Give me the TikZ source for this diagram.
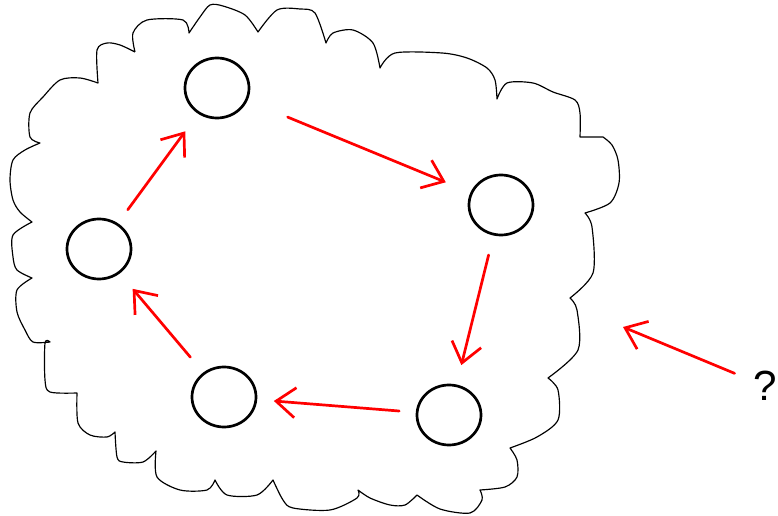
\documentclass[tikz,border=0pt]{standalone}
\usepackage{fontspec}
\setmainfont{Liberation Sans}
\usetikzlibrary{arrows.meta,positioning,shapes.geometric}

\begin{document}
\begin{tikzpicture}[x=0.03cm,y=-0.03cm]
	\tikzstyle{peer} = [ellipse, draw, line width=2.3pt, minimum width=1.92cm, minimum height=1.8cm, inner sep=0pt]
	\tikzstyle{arrow} = [draw=red, line width=2.3pt, line cap=round, -{Straight Barb[length=0.58cm, width=0.9cm, line width=2.3pt]}]
	\tikzstyle{cloudline} = [draw, line width=1pt, line join=round, smooth, tension=0.5]

	\useasboundingbox (0,0) rectangle (778,516);

	% the cloud, one bump at a time
	\path[cloudline]
		plot coordinates {(135,52) (133,33) (147,20) (183,20) (189,33)}
		-- plot coordinates {(189,33) (200,17) (210,5) (223,6) (245,15) (258,32)}
		-- plot coordinates {(258,32) (277,10) (300,9) (315,13) (326,43)}
		-- plot coordinates {(326,43) (333,33) (353,30) (373,43) (380,68)}
		-- plot coordinates {(380,68) (395,53) (442,53) (467,58) (487,68) (495,80) (497,99)}
		-- plot coordinates {(497,99) (507,83) (533,83) (553,92) (575,100) (580,113) (580,137)}
		-- (603,137)
		-- plot coordinates {(603,137) (612,145) (618,160) (619,183) (610,203) (585,213)}
		-- plot coordinates {(585,213) (592,227) (593,273) (570,298)}
		-- plot coordinates {(570,298) (577,310) (578,350) (548,378)}
		-- plot coordinates {(548,378) (558,390) (558,420) (537,437) (510,448)}
		-- plot coordinates {(510,448) (517,460) (517,477) (505,487) (480,490)}
		-- plot coordinates {(480,490) (482,500) (470,513) (440,509) (417,495)}
		-- plot coordinates {(417,495) (405,505) (390,505) (370,498) (358,490)}
		-- plot coordinates {(358,490) (357,498) (330,510) (293,508) (283,500) (273,480)}
		-- plot coordinates {(273,480) (257,495) (227,495) (215,480)}
		-- plot coordinates {(215,480) (207,490) (180,490) (157,477) (156,451)}
		-- plot coordinates {(156,451) (143,462) (123,462) (117,457) (115,432)}
		-- plot coordinates {(115,432) (107,437) (90,435) (78,423) (77,393)}
		-- plot coordinates {(77,393) (50,392) (45,380) (45,343) (50,342)}
		-- plot coordinates {(50,342) (33,342) (25,330) (17,312) (17,290) (32,278)}
		-- plot coordinates {(32,278) (17,270) (13,257) (13,235) (32,222)}
		-- plot coordinates {(32,222) (20,212) (13,200) (10,180) (13,160) (25,150) (40,143)}
		-- plot coordinates {(40,143) (30,137) (30,113) (43,97) (60,80) (80,78) (98,83)}
		-- plot coordinates {(98,83) (97,50) (107,43) (120,45) (135,52)};

	% the five peers
	\node [peer] (topnode) at (217,88) {};
	\node [peer] (rightnode) at (501,205) {};
	\node [peer] (lowright) at (449,415) {};
	\node [peer] (lowleft) at (224,397) {};
	\node [peer] (leftnode) at (99,249) {};

	\path[arrow] (leftnode) edge[shorten <=0.5cm, shorten >=0.65cm] (topnode);
	\path[arrow] (topnode) edge[shorten <=1.3cm, shorten >=0.8cm] (rightnode);
	\path[arrow] (rightnode) edge[shorten <=0.6cm, shorten >=0.6cm] (lowright);
	\path[arrow] (lowright) edge[shorten <=0.5cm, shorten >=0.5cm] (lowleft);
	\path[arrow] (lowleft) edge[shorten <=0.6cm, shorten >=0.6cm] (leftnode);

	% outside question
	\node [anchor=east, inner sep=0pt, font=\fontsize{36}{40}\selectfont] (ask) at (777,386) {?};
	\coordinate (hit) at (623,327);
	\path[arrow] (ask) edge[shorten <=0.6cm] (hit);
\end{tikzpicture}
\end{document}
